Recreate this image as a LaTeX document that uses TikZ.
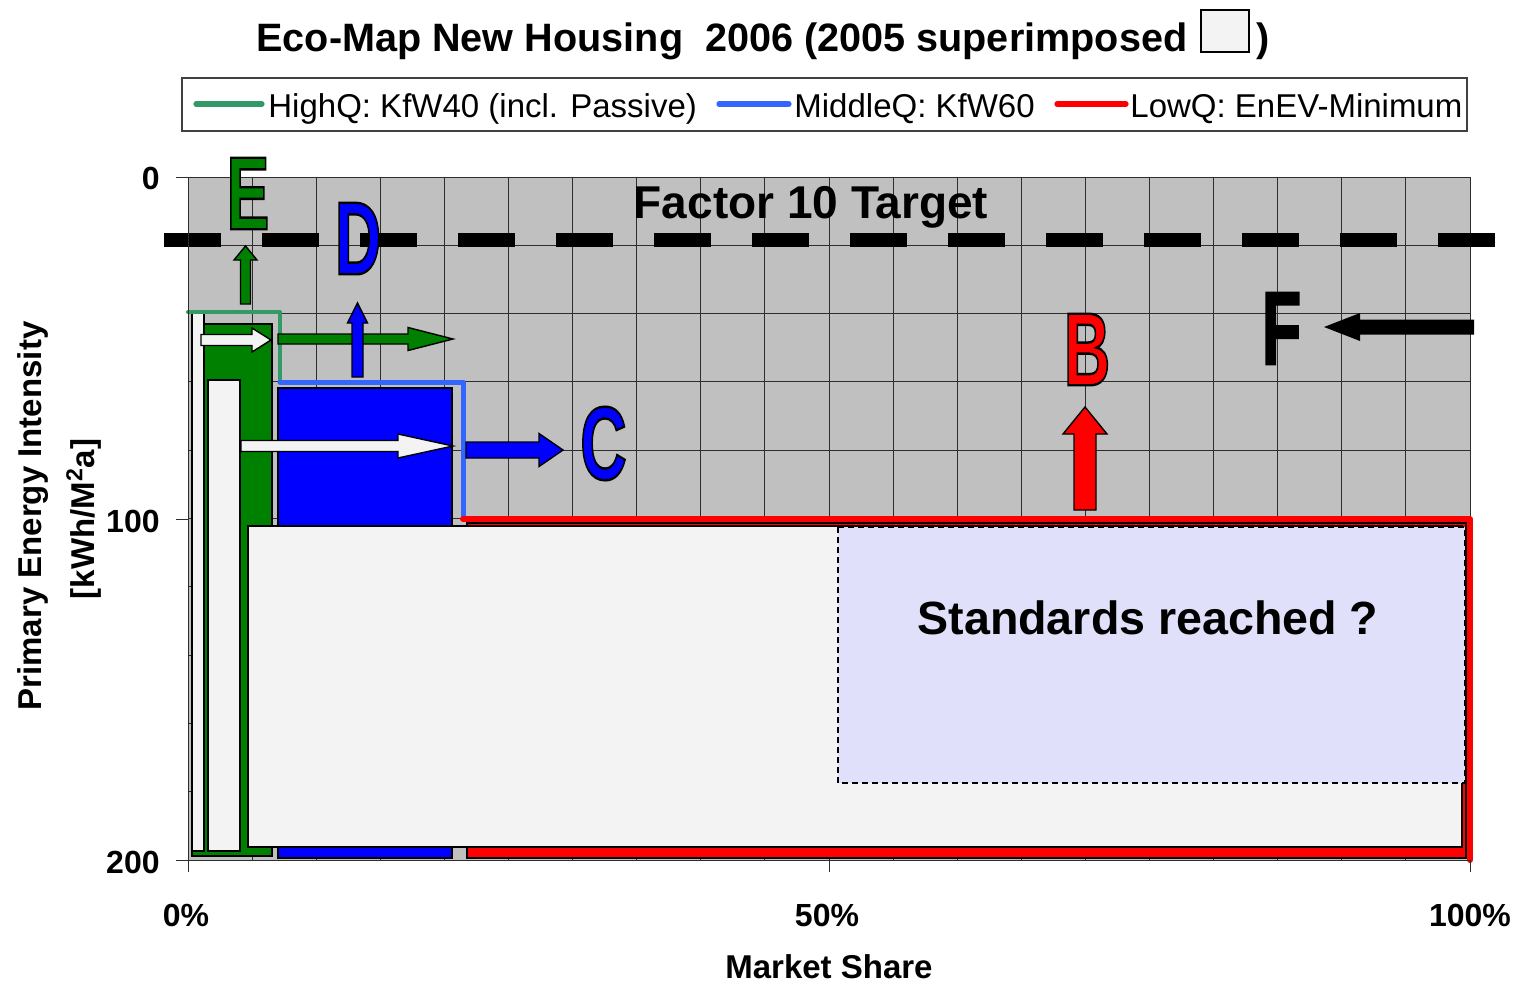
\documentclass[tikz,border=0pt]{standalone}
\usepackage{graphicx}
\usepackage{fontspec}
\setmainfont{Liberation Sans}
\usetikzlibrary{calc}

\definecolor{plotgray}{RGB}{192,192,192}
\definecolor{gridgray}{RGB}{45,45,45}
\definecolor{highq}{RGB}{0,128,0}
\definecolor{highqline}{RGB}{51,153,102}
\definecolor{midq}{RGB}{0,0,255}
\definecolor{midqline}{RGB}{51,102,255}
\definecolor{lowq}{RGB}{255,0,0}
\definecolor{oldfill}{RGB}{243,243,243}
\definecolor{lavender}{RGB}{224,224,250}

% outlined big letter (fill in current colour, black stroke)
\newcommand{\bigletter}[1]{\scalebox{0.62}[1]{\special{pdf:literal direct 2 Tr 1.2 w 0 0 0 RG}#1\special{pdf:literal direct 0 Tr}}}

% block arrows: style, tail, base of head, tip, centre line, shaft half width, head half width
\newcommand{\harrowshape}[7]{\draw[blockarrow,#1] (#2,#5-#6) -- (#3,#5-#6) -- (#3,#5-#7) -- (#4,#5) -- (#3,#5+#7) -- (#3,#5+#6) -- (#2,#5+#6) -- cycle;}
\newcommand{\varrowshape}[7]{\draw[blockarrow,#1] (#5-#6,#2) -- (#5-#6,#3) -- (#5-#7,#3) -- (#5,#4) -- (#5+#7,#3) -- (#5+#6,#3) -- (#5+#6,#2) -- cycle;}

\begin{document}
\begin{tikzpicture}[x=0.5pt, y=-0.5pt,
	gridline/.style={draw=gridgray, line width=0.5pt},
	bar/.style={draw=black, line width=0.8pt},
	oldbar/.style={draw=black, line width=0.7pt, fill=oldfill},
	stepline/.style={line width=2.5pt, line cap=round, line join=round},
	blockarrow/.style={draw=black, line width=0.7pt, line join=miter},
	letter/.style={font=\fontsize{52}{52}\selectfont\bfseries, inner sep=0pt},
	ticklab/.style={font=\fontsize{16}{18}\selectfont\bfseries, inner sep=0pt},
	legtext/.style={font=\fontsize{16.5}{18}\selectfont, anchor=base west, inner sep=0pt},
	legline/.style={line width=2.6pt, line cap=round}]
	
	\useasboundingbox (0,0) rectangle (1519,985);
	
	% title and legend
	\node[anchor=base west, inner sep=0pt, font=\fontsize{19.8}{22}\selectfont\bfseries] (title) at (256,51) {Eco-Map New Housing\ \ 2006 (2005 superimposed};
	\draw[line width=0.7pt, fill=oldfill] (1201,10) rectangle (1249,52);
	\node[anchor=base west, inner sep=0pt, font=\fontsize{19.8}{22}\selectfont\bfseries] (close) at (1256,51) {)};
	
	\draw[line width=0.7pt, draw=black!75] (182,78) rectangle (1467,131);
	\draw[legline, highqline] (196,104) -- (262,104);
	\node[legtext] (leghigh) at (268,117) {HighQ: KfW40 (incl. Passive)};
	\draw[legline, midqline] (719,104) -- (789,104);
	\node[legtext] (legmid) at (794,117) {MiddleQ: KfW60};
	\draw[legline, lowq] (1057,104) -- (1126,104);
	\node[legtext] (leglow) at (1130,117) {LowQ: EnEV-Minimum};
	
	% plot area
	\fill[plotgray] (188,177) rectangle (1470,860);
	\foreach \i in {1,...,19}
		\draw[gridline] (188+\i*64.1,177) -- (188+\i*64.1,860);
	\foreach \j in {1,...,9}
		\draw[gridline] (188,177+\j*68.3) -- (1470,177+\j*68.3);
	\draw[gridline] (188,177) rectangle (1470,860);
	
	\node[anchor=base, inner sep=0pt, font=\fontsize{23}{25}\selectfont\bfseries] (target) at (811,218) {Factor 10 Target};
	
	% 2006 bars
	\draw[bar, fill=highq] (192,324) rectangle (272,856);
	\draw[bar, fill=midq] (278,388) rectangle (452,858);
	\draw[bar, fill=lowq] (467,523) rectangle (1466,858);
	
	% 2005 superimposed
	\draw[oldbar] (192,313) rectangle (204,851);
	\draw[oldbar] (208,380) rectangle (240,851);
	\draw[oldbar] (248,526) rectangle (1462,847);
	
	\draw[line width=0.7pt, dash pattern=on 3pt off 2pt, fill=lavender] (838,527) rectangle (1465,783);
	\node[anchor=base, inner sep=0pt, font=\fontsize{23.3}{26}\selectfont\bfseries] (reached) at (1148,634) {Standards reached ?};
	
	% step lines
	\draw[stepline, highqline, line width=2pt] (188,312) -- (280,312) -- (280,382);
	\draw[stepline, midqline] (280,382) -- (463,382) -- (463,519);
	\draw[stepline, lowq, line width=3pt] (463,519) -- (1470,519) -- (1470,860);
	
	% target line
	\draw[line width=7pt, dash pattern=on 28.5pt off 20.5pt] (164,240) -- (1495,240);
	
	% arrows
	\varrowshape{fill=highq}{304}{260}{246}{245.5}{5}{11.5}
	\harrowshape{fill=highq}{278}{408}{453}{339}{5}{11.5}
	\harrowshape{fill=oldfill}{201}{252}{271}{340}{5.5}{12}
	\varrowshape{fill=midq}{377}{323}{303}{357.5}{5.5}{10}
	\harrowshape{fill=oldfill}{241}{398}{453}{446}{5.5}{12}
	\harrowshape{fill=midq}{466}{539}{563}{450}{8}{16.5}
	\varrowshape{fill=lowq}{510}{434}{407}{1085}{11}{22}
	\harrowshape{fill=black, draw=none}{1474}{1360}{1324}{327}{7.5}{14}
	
	% letters
	\node[letter, text=highq] (E) at (248,193.5) {\bigletter{E}};
	\node[letter, text=midq] (D) at (358,238.5) {\bigletter{D}};
	\node[letter, text=midq] (C) at (603.5,443.5) {\bigletter{C}};
	\node[letter, text=lowq] (B) at (1087,349.5) {\bigletter{B}};
	\node[letter, text=black] (F) at (1281.5,328.5) {\bigletter{F}};
	
	% axes
	\draw[gridline] (176,177) -- (188,177);
	\draw[gridline] (176,519) -- (188,519);
	\draw[gridline] (176,860) -- (1470,860);
	\draw[gridline] (188,177) -- (188,872);
	\draw[gridline] (829,860) -- (829,872);
	\draw[gridline] (1470,860) -- (1470,872);
	
	\node[ticklab, anchor=east] (y0) at (160,178) {0};
	\node[ticklab, anchor=east] (y100) at (160,521) {100};
	\node[ticklab, anchor=east] (y200) at (160,862) {200};
	\node[ticklab] (x0) at (186,915) {0\%};
	\node[ticklab] (x50) at (827,915) {50\%};
	\node[ticklab] (x100) at (1470,915) {100\%};
	\node[ticklab, font=\fontsize{16.5}{18}\selectfont\bfseries] (xtitle) at (829,967) {Market Share};
	\node[ticklab, font=\fontsize{16.5}{18}\selectfont\bfseries, rotate=90] (ytitle) at (33,516) {Primary Energy Intensity};
	\node[ticklab, font=\fontsize{16.5}{18}\selectfont\bfseries, rotate=90] (yunit) at (84,519) {[kWh/M\textsuperscript{2}a]};
	
\end{tikzpicture}
\end{document}
